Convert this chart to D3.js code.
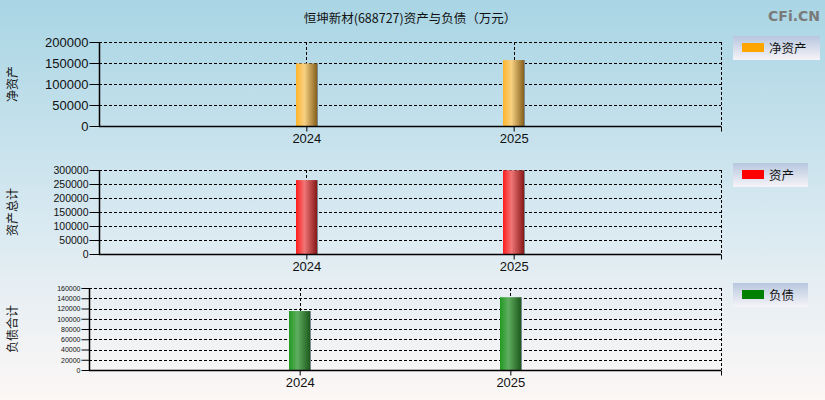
<!DOCTYPE html>
<html>
<head>
<meta charset="utf-8">
<script src="https://cdn.jsdelivr.net/npm/d3@7"></script>
<style>
  body { margin: 0; padding: 0; }
  svg { display: block; font-family: "Noto Sans CJK SC", "DejaVu Sans", sans-serif; }
</style>
</head>
<body>
<div id="chart"></div>
<script>
// data (万元)
var years = [2024, 2025];
var netAssets = [149000, 157000];
var totalAssets = [264000, 299000];
var liabilities = [115000, 142000];

var panelNames = ['净资产', '资产总计', '负债合计'];
var legendNames = ['净资产', '资产', '负债'];
var yMaxes = [200000, 300000, 160000];
var yStep = [50000, 50000, 20000];

var width = 825, height = 400;

var svg = d3.select('#chart').append('svg')
  .attr('width', width)
  .attr('height', height);

var defs = svg.append('defs');

// background
var bg = defs.append('linearGradient').attr('id', 'bg')
  .attr('x1', 0).attr('y1', 0).attr('x2', 0).attr('y2', 1);
bg.append('stop').attr('offset', '0%').attr('stop-color', '#a9d5e4');
bg.append('stop').attr('offset', '55%').attr('stop-color', '#d8e9f1');
bg.append('stop').attr('offset', '100%').attr('stop-color', '#fdf7f6');
svg.append('rect').attr('width', width).attr('height', height).attr('fill', 'url(#bg)');

var lg = defs.append('linearGradient').attr('id', 'legbg')
  .attr('x1', 0).attr('y1', 0).attr('x2', 0).attr('y2', 1);
lg.append('stop').attr('offset', '0%').attr('stop-color', '#b7c7df');
lg.append('stop').attr('offset', '100%').attr('stop-color', '#f6f4f8');

// bar gradients: [light edge, highlight, dark edge]
var barColors = [
  ['#ffb52c', '#f8d183', '#86601c'],
  ['#ff1c1c', '#f07676', '#871818'],
  ['#229a22', '#5fad5f', '#1d5a1d']
];
var legendColors = ['#ffa500', '#ff0000', '#008000'];

barColors.forEach(function(c, i) {
  var g = defs.append('linearGradient').attr('id', 'bar' + i)
    .attr('x1', 0).attr('y1', 0).attr('x2', 1).attr('y2', 0);
  g.append('stop').attr('offset', '0%').attr('stop-color', c[0]);
  g.append('stop').attr('offset', '40%').attr('stop-color', c[1]);
  g.append('stop').attr('offset', '100%').attr('stop-color', c[2]);
});

// title + watermark
svg.append('text')
  .attr('x', 410).attr('y', 23)
  .attr('text-anchor', 'middle')
  .attr('font-size', 12.5)
  .attr('fill', '#111')
  .text('恒坤新材(688727)资产与负债（万元）');

svg.append('text')
  .attr('x', 820).attr('y', 21)
  .attr('text-anchor', 'end')
  .attr('font-size', 14)
  .attr('font-weight', 'bold')
  .attr('font-family', 'DejaVu Sans, sans-serif')
  .attr('fill', '#7a7a7a')
  .text('CFi.CN');

// panel geometry
var panels = [
  { left: 99, right: 721, top: 42, bottom: 126, tickFont: 13, tickLen: 10, values: netAssets },
  { left: 99, right: 721, top: 170, bottom: 254, tickFont: 10.5, tickLen: 10, values: totalAssets },
  { left: 89, right: 721, top: 288, bottom: 370, tickFont: 7, tickLen: 8, values: liabilities }
];
var legendBoxes = [
  { x: 733, y: 36, w: 87, h: 24 },
  { x: 733, y: 163, w: 75, h: 24 },
  { x: 733, y: 283, w: 75, h: 24 }
];

panels.forEach(function(p, i) {
  var g = svg.append('g');

  var x = d3.scaleLinear().domain([2023, 2026]).range([p.left, p.right]);
  var y = d3.scaleLinear().domain([0, yMaxes[i]]).range([p.bottom, p.top]);
  var yTicks = d3.range(0, yMaxes[i] + 1, yStep[i]);

  // horizontal dashed grid
  g.selectAll('line.hgrid').data(yTicks.slice(1)).enter().append('line')
    .attr('class', 'hgrid')
    .attr('x1', p.left).attr('x2', p.right)
    .attr('y1', function(d) { return Math.round(y(d)) + 0.5; })
    .attr('y2', function(d) { return Math.round(y(d)) + 0.5; })
    .attr('stroke', '#000').attr('stroke-width', 1)
    .attr('stroke-dasharray', '3,2');

  // vertical dashed grid at years + right edge
  g.selectAll('line.vgrid').data(years.concat([2026])).enter().append('line')
    .attr('class', 'vgrid')
    .attr('x1', function(d) { return Math.round(x(d)) + 0.5; })
    .attr('x2', function(d) { return Math.round(x(d)) + 0.5; })
    .attr('y1', p.top).attr('y2', p.bottom)
    .attr('stroke', '#000').attr('stroke-width', 1)
    .attr('stroke-dasharray', '3,2');

  // bars
  var bw = 21;
  g.selectAll('rect.bar').data(p.values).enter().append('rect')
    .attr('class', 'bar')
    .attr('x', function(d, j) { return Math.round(x(years[j]) - bw / 2); })
    .attr('y', function(d) { return y(d); })
    .attr('width', bw)
    .attr('height', function(d) { return p.bottom - y(d); })
    .attr('fill', 'url(#bar' + i + ')');
  g.selectAll('line.edge').data(p.values).enter().append('line')
    .attr('class', 'edge')
    .attr('x1', function(d, j) { return Math.round(x(years[j]) - bw / 2) + bw + 0.5; })
    .attr('x2', function(d, j) { return Math.round(x(years[j]) - bw / 2) + bw + 0.5; })
    .attr('y1', function(d) { return y(d); })
    .attr('y2', p.bottom)
    .attr('stroke', '#7a8a90').attr('stroke-width', 1);

  // y axis
  var yAxis = d3.axisLeft(y).tickValues(yTicks).tickSize(p.tickLen).tickPadding(1)
    .tickFormat(d3.format('d'));
  var ya = g.append('g')
    .attr('transform', 'translate(' + (p.left + 0.5) + ',0)')
    .call(yAxis);
  ya.select('.domain').attr('stroke', '#000').attr('stroke-width', 1.5)
    .attr('d', 'M0,' + p.top + 'V' + p.bottom);
  ya.selectAll('.tick line').attr('stroke', '#000');
  ya.selectAll('.tick text')
    .attr('font-size', p.tickFont)
    .attr('font-family', 'Liberation Sans, Arial, sans-serif')
    .attr('fill', '#111');

  // x axis
  var xAxis = d3.axisBottom(x).tickValues(years.concat([2026])).tickSize(5).tickPadding(2)
    .tickFormat(function(d) { return d === 2026 ? '' : d; });
  var xa = g.append('g')
    .attr('transform', 'translate(0,' + (p.bottom + 0.5) + ')')
    .call(xAxis);
  xa.select('.domain').attr('stroke', '#000').attr('stroke-width', 1.5)
    .attr('d', 'M' + p.left + ',0H' + p.right);
  xa.selectAll('.tick line').attr('stroke', '#000');
  xa.selectAll('.tick text')
    .attr('font-size', 13)
    .attr('font-family', 'Liberation Sans, Arial, sans-serif')
    .attr('fill', '#111');

  // rotated panel label
  var cy = (p.top + p.bottom) / 2;
  svg.append('text')
    .attr('transform', 'translate(17,' + cy + ') rotate(-90)')
    .attr('text-anchor', 'middle')
    .attr('font-size', 12)
    .attr('fill', '#111')
    .text(panelNames[i]);

  // legend
  var lb = legendBoxes[i];
  var leg = svg.append('g').attr('transform', 'translate(' + lb.x + ',' + lb.y + ')');
  leg.append('rect').attr('width', lb.w).attr('height', lb.h).attr('fill', 'url(#legbg)');
  leg.append('rect').attr('x', 9).attr('y', 7).attr('width', 22).attr('height', 9)
    .attr('fill', legendColors[i]);
  leg.append('text').attr('x', 36).attr('y', 16.5)
    .attr('font-size', 12.5).attr('fill', '#111')
    .text(legendNames[i]);
});
</script>
</body>
</html>
